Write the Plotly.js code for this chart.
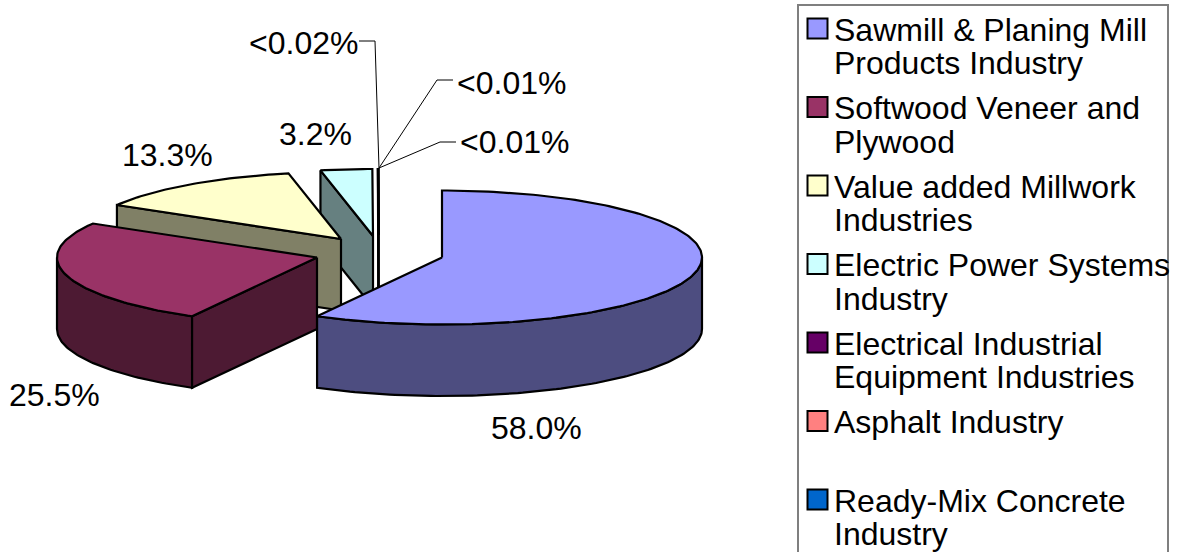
<!DOCTYPE html>
<html>
<head>
<meta charset="utf-8">
<script src="https://cdn.plot.ly/plotly-3.0.1.min.js"></script>
<style>html,body{margin:0;padding:0;background:#fff}#chart{width:1178px;height:552px}</style>
</head>
<body>
<div id="chart"></div>
<script>
// ---- data ----
const categories = ["Sawmill & Planing Mill Products Industry","Softwood Veneer and Plywood","Value added Millwork Industries","Electric Power Systems Industry","Electrical Industrial Equipment Industries","Asphalt Industry","Ready-Mix Concrete Industry"];
const shares = [58.0, 25.5, 13.3, 3.2, 0.02, 0.01, 0.01];
const topColors = ["#9999FF","#993366","#FFFFCC","#CCFFFF","#660066","#FF8080","#0066CC"];
const wallColors = ["#4D4D80","#4D1A33","#808066","#668080","#330033","#804040","#003366"];
const legendLines = [["Sawmill & Planing Mill","Products Industry"],["Softwood Veneer and","Plywood"],["Value added Millwork","Industries"],["Electric Power Systems","Industry"],["Electrical Industrial","Equipment Industries"],["Asphalt Industry"],["Ready-Mix Concrete","Industry"]];
const valueLabels = ["58.0%","25.5%","13.3%","3.2%","<0.02%","<0.01%","<0.01%"];

// ---- layout of the drawing (axis units equal pixels) ----
const apexX = [442,317,341,373,378.5,378.5,378.5];
const apexY = [257.5,257.5,239,236,235,235,235];
const RX = 260, RY = 67, DEPTH = 71.5;
const labelX = [536,54,167,315.5,303.5,511.5,514.5];
const labelY = [428,395,155,134,43,83,142];
const leaderX = [[359,375,379],[453,437,379],[456,440,379]];
const leaderY = [[41,41,168],[80,80,168],[142,142,168]];
const FONT = "Liberation Sans, Arial, sans-serif";
const FS = 32;

const total = shares.reduce((a,b)=>a+b,0);
const starts = []; let acc = 0;
shares.forEach(v=>{starts.push(acc/total*2*Math.PI); acc+=v;});
const ends = starts.map((s,i)=>s+shares[i]/total*2*Math.PI);

function pt(i,a,dz){return [apexX[i]+RX*Math.sin(a), apexY[i]-RY*Math.cos(a)+(dz||0)];}
function arc(i,a,b,dz){const n=Math.max(2,Math.ceil(Math.abs(b-a)/0.02));const o=[];for(let k=0;k<=n;k++)o.push(pt(i,a+(b-a)*k/n,dz));return o;}
function poly(points,color){
  const c=points.concat([points[0]]);
  return {type:"scatter",mode:"lines",x:c.map(p=>p[0]),y:c.map(p=>p[1]),fill:"toself",fillcolor:color,
    line:{color:"#000",width:2.2},hoverinfo:"skip",showlegend:false};
}
function cutWall(i,a,color){
  const o=[apexX[i],apexY[i]],p=pt(i,a);
  return poly([o,p,[p[0],p[1]+DEPTH],[o[0],o[1]+DEPTH]],color);
}
function frontWall(i,color){
  const a=Math.max(starts[i],Math.PI/2),b=Math.min(ends[i],1.5*Math.PI);
  if(b<=a) return null;
  return poly(arc(i,a,b,0).concat(arc(i,b,a,DEPTH)),color);
}
function topFace(i,color){return poly([[apexX[i],apexY[i]]].concat(arc(i,starts[i],ends[i])),color);}

const traces=[];
function sliceTraces(i){
  const f=frontWall(i,wallColors[i]); if(f) traces.push(f);
  if(i>0) traces.push(cutWall(i,starts[i],wallColors[i]));
  traces.push(topFace(i,topColors[i]));
}
[6,5,4,3,2,1,0].forEach(sliceTraces);

// leader lines
leaderX.forEach((xs,k)=>traces.push({type:"scatter",mode:"lines",x:xs,y:leaderY[k],line:{color:"#000",width:1},hoverinfo:"skip",showlegend:false}));

// legend swatches
const LEG_Y0=28.5, LEG_STEP=78.5;
const legendY=categories.map((c,i)=>LEG_Y0+LEG_STEP*i);
traces.push({type:"scatter",mode:"markers",x:categories.map(()=>817.5),y:legendY,
  marker:{symbol:"square",size:20,color:topColors,line:{color:"#000",width:2}},text:categories,hoverinfo:"text",showlegend:false});

const annotations=[];
valueLabels.forEach((t,i)=>annotations.push({x:labelX[i],y:labelY[i],xref:"x",yref:"y",text:t.replace("<","&lt;"),showarrow:false,
  xanchor:"center",yanchor:"middle",font:{family:FONT,size:FS,color:"#000"}}));
legendLines.forEach((lines,i)=>lines.forEach((t,j)=>annotations.push({x:835,y:legendY[i]+1+j*33.5,xref:"x",yref:"y",text:t.replace("&","&amp;"),showarrow:false,
  xanchor:"left",yanchor:"middle",xshift:-3,font:{family:FONT,size:FS,color:"#000"}})));

const layout={width:1178,height:552,margin:{l:0,r:0,t:0,b:0},paper_bgcolor:"#fff",plot_bgcolor:"#fff",showlegend:false,
  xaxis:{range:[0,1178],visible:false,fixedrange:true},yaxis:{range:[552,0],visible:false,fixedrange:true},
  shapes:[{type:"rect",xref:"x",yref:"y",x0:798,x1:1168,y0:5,y1:570,line:{color:"#7f7f7f",width:2},fillcolor:"#fff",layer:"below"}],
  annotations};
Plotly.newPlot("chart",traces,layout,{displayModeBar:false,staticPlot:true});
</script>
</body>
</html>
